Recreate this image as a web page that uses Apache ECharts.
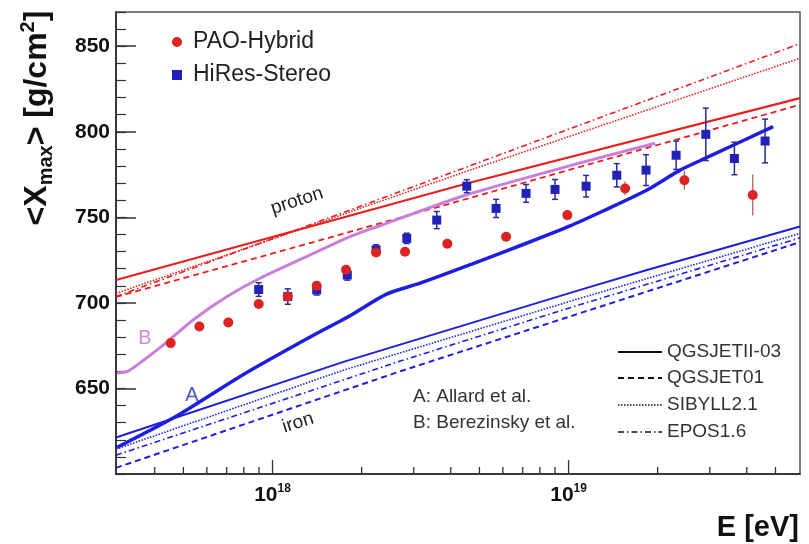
<!DOCTYPE html>
<html><head><meta charset="utf-8">
<script src="https://cdn.jsdelivr.net/npm/echarts@6/dist/echarts.min.js"></script>
<style>html,body{margin:0;padding:0;background:#fff}#c{width:809px;height:544px}</style>
</head><body><div id="c"></div>
<script>
const FONT = 'Liberation Sans, Arial, Helvetica, sans-serif';
const X_MIN = 2.96e17, X_MAX = 6.05e19, Y_MIN = 600, Y_MAX = 870;

// PAO-Hybrid data
const paoE    = [4.53e17, 5.66e17, 7.09e17, 8.98e17, 1.126e18, 1.41e18, 1.771e18, 2.238e18, 2.803e18, 3.895e18, 6.151e18, 9.906e18, 1.552e19, 2.462e19, 4.19e19];
const paoXmax = [676.5, 686.2, 688.5, 699.4, 703.7, 710.0, 719.4, 729.5, 729.9, 734.6, 738.7, 751.3, 766.9, 771.7, 763.0];
const paoErr  = [2, 2, 2, 2, 2, 2, 2, 2, 2, 2, 2, 3, 4, 5.5, 12];

// HiRes-Stereo data
const hiresE    = [8.98e17, 1.126e18, 1.41e18, 1.789e18, 2.238e18, 2.841e18, 3.587e18, 4.53e18, 5.69e18, 7.185e18, 9.0e18, 1.146e19, 1.455e19, 1.827e19, 2.308e19, 2.908e19, 3.632e19, 4.611e19];
const hiresXmax = [707.8, 703.7, 707.6, 716.3, 731.0, 737.7, 748.4, 768.2, 755.2, 764.0, 766.3, 768.2, 774.6, 777.6, 786.3, 798.5, 784.4, 794.6];
const hiresErr  = [4, 4.5, 3, 3, 3, 3, 5, 3.8, 5.3, 5.2, 5.8, 6.3, 6.8, 9, 8.3, 15.3, 9.5, 12.8];

// Proton model predictions
const protonQGSJETII = [[2.96e17, 713.4], [4.53e18, 769.8], [6.05e19, 819.7]];
const protonQGSJET01 = [[2.96e17, 703.5], [1.525e18, 737.7], [6.05e19, 815.8]];
const protonSIBYLL   = [[2.96e17, 705.5], [4.30e18, 775.6], [6.05e19, 843.0]];
const protonEPOS     = [[2.96e17, 703.7], [4.30e18, 778.0], [6.05e19, 851.5]];

// Iron model predictions
const ironQGSJETII = [[2.96e17, 621.3], [1.758e18, 665.8], [1.094e19, 707.6], [1.841e19, 719.2], [6.05e19, 744.6]];
const ironQGSJET01 = [[2.96e17, 603.6], [2.70e18, 660.0], [1.094e19, 694.0], [6.05e19, 735.5]];
const ironSIBYLL   = [[2.96e17, 614.5], [1.758e18, 661.0], [1.094e19, 702.7], [6.05e19, 740.6]];
const ironEPOS     = [[2.96e17, 611.0], [2.70e18, 666.0], [1.094e19, 699.0], [6.05e19, 738.0]];

// A: Allard et al., B: Berezinsky et al.
const curveA = [[2.98e17, 615.5], [4.76e17, 634], [7.95e17, 658], [1.339e18, 680], [1.827e18, 692.5], [2.418e18, 705], [3.15e18, 711.5], [4.76e18, 723], [7.24e18, 735], [1.012e19, 745], [1.318e19, 754], [1.842e19, 766], [2.381e19, 777.6], [2.937e19, 785], [4.91e19, 803]];
const curveB = [[2.98e17, 659], [3.25e17, 660], [4.25e17, 675], [5.39e17, 690], [7.02e17, 703.7], [9.07e17, 714.4], [1.339e18, 728], [1.827e18, 738.7], [2.254e18, 744.5], [4.40e18, 762.5], [1.052e19, 781], [1.96e19, 793.3]];

// Axis ticks
const xTickValues = [4e17, 5e17, 6e17, 7e17, 8e17, 9e17, 1e18, 2e18, 3e18, 4e18, 5e18, 6e18, 7e18, 8e18, 9e18, 1e19, 2e19, 3e19, 4e19, 5e19];
const yMajorTicks = [650, 700, 750, 800, 850];

const RED = '#ee1d1d', BLUE = '#1e1ee0', PURPLE = '#c97fd9';
const DASH = [6, 4], DOT = [1.5, 1.5], DASHDOT = [6, 3, 1.5, 3];

function isPow10(v) { const e = Math.log10(v); return Math.abs(e - Math.round(e)) < 1e-6; }

function modelLine(name, data, color, type, width) {
  return { type: 'line', name: name, data: data, showSymbol: false, symbol: 'none', silent: true,
    lineStyle: { color: color, type: type, width: width }, z: 2, animation: false };
}

function errBarSeries(E, V, ERR, color, cap, width) {
  return {
    type: 'custom', silent: true, animation: false, z: 3,
    data: E.map((e, i) => [e, V[i], ERR[i]]),
    encode: { x: 0, y: 1 },
    renderItem: function (params, api) {
      const e = api.value(0), v = api.value(1), er = api.value(2);
      const lo = api.coord([e, v - er]), hi = api.coord([e, v + er]);
      const ch = [{ type: 'line', shape: { x1: lo[0], y1: lo[1], x2: hi[0], y2: hi[1] }, style: { stroke: color, lineWidth: width } }];
      if (cap) {
        ch.push({ type: 'line', shape: { x1: lo[0] - cap, y1: lo[1], x2: lo[0] + cap, y2: lo[1] }, style: { stroke: color, lineWidth: width } });
        ch.push({ type: 'line', shape: { x1: hi[0] - cap, y1: hi[1], x2: hi[0] + cap, y2: hi[1] }, style: { stroke: color, lineWidth: width } });
      }
      return { type: 'group', children: ch };
    }
  };
}

const chart = echarts.init(document.getElementById('c'), null, { renderer: 'canvas' });

const option = {
  backgroundColor: '#fff',
  animation: false,
  grid: { left: 116, right: 9, top: 12, bottom: 70, show: true, borderColor: '#555', borderWidth: 1.5, containLabel: false },
  xAxis: [{
    type: 'log', logBase: 10, min: X_MIN, max: X_MAX,
    axisLine: { show: true, lineStyle: { color: '#222', width: 1.5 } },
    axisTick: { show: false }, splitLine: { show: false },
    axisLabel: {
      margin: 9, color: '#111',
      formatter: function (v) { return isPow10(v) ? '{b|10}{s|' + Math.round(Math.log10(v)) + '}' : ''; },
      rich: {
        b: { fontSize: 21, fontWeight: 'bold', fontFamily: FONT, color: '#111', lineHeight: 24 },
        s: { fontSize: 12, fontWeight: 'bold', fontFamily: FONT, color: '#111', verticalAlign: 'top', lineHeight: 24 }
      }
    }
  }],
  yAxis: [{
    type: 'value', min: Y_MIN, max: Y_MAX, interval: 10, position: 'left',
    axisLine: { show: true, lineStyle: { color: '#222', width: 1.5 } },
    axisTick: { show: true, inside: true, length: 10, lineStyle: { color: '#333', width: 1.2 } },
    axisLabel: { show: false }, splitLine: { show: false }
  }, {
    type: 'value', min: Y_MIN, max: Y_MAX, position: 'left',
    axisLine: { show: false },
    axisTick: { show: true, inside: true, length: 20, customValues: yMajorTicks, lineStyle: { color: '#333', width: 1.5 } },
    axisLabel: { show: true, customValues: yMajorTicks, margin: 6, fontSize: 21, fontWeight: 'bold', fontFamily: FONT, color: '#111' },
    splitLine: { show: false }
  }],
  legend: {
    data: [{ name: 'PAO-Hybrid', icon: 'circle' }, { name: 'HiRes-Stereo', icon: 'rect' }],
    orient: 'vertical', left: 167, top: 25,
    itemWidth: 10, itemHeight: 10, itemGap: 9, selectedMode: false,
    textStyle: { fontSize: 23, fontFamily: FONT, color: '#222', lineHeight: 24, padding: [0, 0, 0, 6] }
  },
  series: [
    modelLine('p-QGSJETII', protonQGSJETII, RED, 'solid', 2.2),
    modelLine('p-QGSJET01', protonQGSJET01, RED, DASH, 1.8),
    modelLine('p-SIBYLL', protonSIBYLL, RED, DOT, 1.6),
    modelLine('p-EPOS', protonEPOS, RED, DASHDOT, 1.6),
    modelLine('Fe-QGSJETII', ironQGSJETII, BLUE, 'solid', 2),
    modelLine('Fe-QGSJET01', ironQGSJET01, BLUE, DASH, 2),
    modelLine('Fe-SIBYLL', ironSIBYLL, BLUE, DOT, 1.6),
    modelLine('Fe-EPOS', ironEPOS, BLUE, DASHDOT, 1.6),
    Object.assign(modelLine('A', curveA, BLUE, 'solid', 3.5), { smooth: 0.25 }),
    Object.assign(modelLine('B', curveB, PURPLE, 'solid', 3), { smooth: 0.2 }),
    {
      type: 'custom', silent: true, animation: false, z: 5, clip: false,
      data: xTickValues.map(v => [v, Y_MIN]),
      encode: { x: 0, y: 1 },
      renderItem: function (params, api) {
        const v = api.value(0);
        const p = api.coord([v, Y_MIN]);
        const len = isPow10(v) ? 14 : 7;
        return { type: 'line', shape: { x1: p[0], y1: p[1], x2: p[0], y2: p[1] - len }, style: { stroke: '#333', lineWidth: 1.3 } };
      }
    },
    errBarSeries(hiresE, hiresXmax, hiresErr, '#2a2a9a', 3, 1.5),
    errBarSeries(paoE, paoXmax, paoErr, '#b05050', 0, 1.2),
    {
      type: 'scatter', name: 'HiRes-Stereo', data: hiresE.map((e, i) => [e, hiresXmax[i]]),
      symbol: 'rect', symbolSize: 9, itemStyle: { color: '#2222bb', opacity: 1 }, z: 4, silent: true
    },
    {
      type: 'scatter', name: 'PAO-Hybrid', data: paoE.map((e, i) => [e, paoXmax[i]]),
      symbol: 'circle', symbolSize: 10, itemStyle: { color: '#dd2222', opacity: 1 }, z: 4, silent: true
    }
  ],
  graphic: [
    { type: 'text', x: 37, y: 118, rotation: Math.PI / 2, silent: true,
      style: { text: '{a|<X}{s|max}{a|> [g/cm}{p|2}{a|]}', align: 'center', verticalAlign: 'middle',
        rich: {
          a: { fontSize: 32, fontWeight: 'bold', fontFamily: FONT, fill: '#111', lineHeight: 38 },
          s: { fontSize: 20, fontWeight: 'bold', fontFamily: FONT, fill: '#111', verticalAlign: 'bottom', lineHeight: 38 },
          p: { fontSize: 20, fontWeight: 'bold', fontFamily: FONT, fill: '#111', verticalAlign: 'top', lineHeight: 38 }
        } } },
    { type: 'text', x: 799, y: 528, silent: true,
      style: { text: 'E [eV]', fontSize: 29, fontWeight: 'bold', fontFamily: FONT, fill: '#111', align: 'right', verticalAlign: 'middle' } },
    { type: 'text', x: 297, y: 201, rotation: 18 * Math.PI / 180, silent: true,
      style: { text: 'proton', fontSize: 19, fontFamily: FONT, fill: '#222', align: 'center', verticalAlign: 'middle' } },
    { type: 'text', x: 298, y: 423, rotation: 18 * Math.PI / 180, silent: true,
      style: { text: 'iron', fontSize: 19, fontFamily: FONT, fill: '#222', align: 'center', verticalAlign: 'middle' } },
    { type: 'text', x: 192, y: 395, silent: true,
      style: { text: 'A', fontSize: 20, fontFamily: FONT, fill: '#4a55c8', align: 'center', verticalAlign: 'middle' } },
    { type: 'text', x: 145, y: 338, silent: true,
      style: { text: 'B', fontSize: 20, fontFamily: FONT, fill: '#c98fd3', align: 'center', verticalAlign: 'middle' } },
    { type: 'text', x: 413, y: 397, silent: true,
      style: { text: 'A: Allard et al.', fontSize: 19, fontFamily: FONT, fill: '#333', align: 'left', verticalAlign: 'middle' } },
    { type: 'text', x: 413, y: 423, silent: true,
      style: { text: 'B: Berezinsky et al.', fontSize: 19, fontFamily: FONT, fill: '#333', align: 'left', verticalAlign: 'middle' } },
    { type: 'line', silent: true, shape: { x1: 618, y1: 352, x2: 662, y2: 352 }, style: { stroke: '#111', lineWidth: 2.2 } },
    { type: 'line', silent: true, shape: { x1: 618, y1: 378, x2: 662, y2: 378 }, style: { stroke: '#111', lineWidth: 2, lineDash: DASH } },
    { type: 'line', silent: true, shape: { x1: 618, y1: 405, x2: 662, y2: 405 }, style: { stroke: '#111', lineWidth: 1.6, lineDash: DOT } },
    { type: 'line', silent: true, shape: { x1: 618, y1: 432, x2: 662, y2: 432 }, style: { stroke: '#111', lineWidth: 1.6, lineDash: DASHDOT } },
    { type: 'text', x: 667, y: 352, silent: true, style: { text: 'QGSJETII-03', fontSize: 19, fontFamily: FONT, fill: '#333', align: 'left', verticalAlign: 'middle' } },
    { type: 'text', x: 667, y: 378, silent: true, style: { text: 'QGSJET01', fontSize: 19, fontFamily: FONT, fill: '#333', align: 'left', verticalAlign: 'middle' } },
    { type: 'text', x: 667, y: 405, silent: true, style: { text: 'SIBYLL2.1', fontSize: 19, fontFamily: FONT, fill: '#333', align: 'left', verticalAlign: 'middle' } },
    { type: 'text', x: 667, y: 432, silent: true, style: { text: 'EPOS1.6', fontSize: 19, fontFamily: FONT, fill: '#333', align: 'left', verticalAlign: 'middle' } }
  ]
};
chart.setOption(option);
</script>
</body></html>
